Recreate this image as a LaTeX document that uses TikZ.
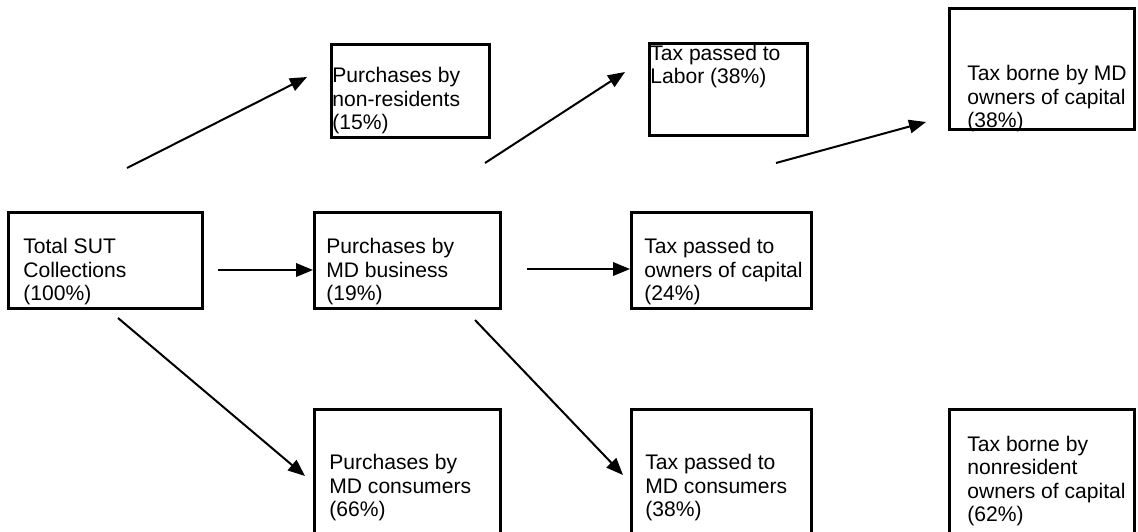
\documentclass[tikz,border=0pt]{standalone}
\usepackage{fontspec}
\setmainfont{Liberation Sans}
\usetikzlibrary{arrows.meta}

\begin{document}
\begin{tikzpicture}[x=0.02cm, y=-0.02cm,
        box/.style={draw, line width=0.06cm, inner sep=0pt, anchor=north west},
        txt/.style={align=left, inner sep=0pt, font=\fontsize{12}{13.2}\selectfont},
        arr/.style={line width=0.04cm, -{Triangle[length=0.34cm, width=0.27cm]}}]
        \useasboundingbox (0,0) rectangle (1138,531);

        % Boxes
        \node[box, minimum width=3.88cm, minimum height=1.92cm] (total) at (7,211) {};
        \node[box, minimum width=3.72cm, minimum height=1.92cm] (bus) at (313,211) {};
        \node[box, minimum width=3.60cm, minimum height=1.92cm] (own) at (630,211) {};
        \node[box, minimum width=3.16cm, minimum height=1.86cm] (nonres) at (330,43) {};
        \node[box, minimum width=3.16cm, minimum height=1.84cm] (labor) at (648,42) {};
        \node[box, minimum width=3.70cm, minimum height=2.42cm] (mdcap) at (948,7) {};
        \node[box, minimum width=3.72cm, minimum height=2.80cm] (cons) at (313,408) {};
        \node[box, minimum width=3.60cm, minimum height=2.80cm] (mdcons) at (630,408) {};
        \node[box, minimum width=3.70cm, minimum height=2.80cm] (nrcap) at (948,408) {};

        % Texts
        \node[txt, anchor=south west] (total-t) at (23,305) {Total SUT\\Collections\\(100\%)};
        \node[txt, anchor=south west] (bus-t) at (326,305) {Purchases by\\MD business\\(19\%)};
        \node[txt, anchor=south west] (own-t) at (644,305) {Tax passed to\\owners of capital\\(24\%)};
        \node[txt, anchor=south west] (nonres-t) at (332,134) {Purchases by\\non-residents\\(15\%)};
        \node[txt, anchor=north west] (labor-t) at (650,45) {Tax passed to\\Labor (38\%)};
        \node[txt, anchor=south west] (mdcap-t) at (967,132) {Tax borne by MD\\owners of capital\\(38\%)};
        \node[txt, anchor=south west] (cons-t) at (329,521) {Purchases by\\MD consumers\\(66\%)};
        \node[txt, anchor=south west] (mdcons-t) at (645,521) {Tax passed to\\MD consumers\\(38\%)};
        \node[txt, anchor=south west] (nrcap-t) at (967,526) {Tax borne by\\nonresident\\owners of capital\\(62\%)};

        % Arrow ends
        \coordinate (total-r) at (218,270);
        \coordinate (total-u) at (127,168);
        \coordinate (total-d) at (118,318);
        \coordinate (bus-r) at (527,269);
        \coordinate (bus-u) at (485,163);
        \coordinate (bus-d) at (475,320);
        \coordinate (own-u) at (776,163);
        \coordinate (nonres-in) at (307,77);
        \coordinate (cons-in) at (305,476);
        \coordinate (labor-in) at (625,72);
        \coordinate (mdcons-in) at (623,475);
        \coordinate (mdcap-in) at (926,122);

        % Arrows
        \draw[arr] (total-r) -- (total-r -| bus.west);
        \draw[arr] (bus-r) -- (bus-r -| own.west);
        \draw[arr] (total-u) -- (nonres-in);
        \draw[arr] (total-d) -- (cons-in);
        \draw[arr] (bus-u) -- (labor-in);
        \draw[arr] (bus-d) -- (mdcons-in);
        \draw[arr] (own-u) -- (mdcap-in);
    \end{tikzpicture}
\end{document}
